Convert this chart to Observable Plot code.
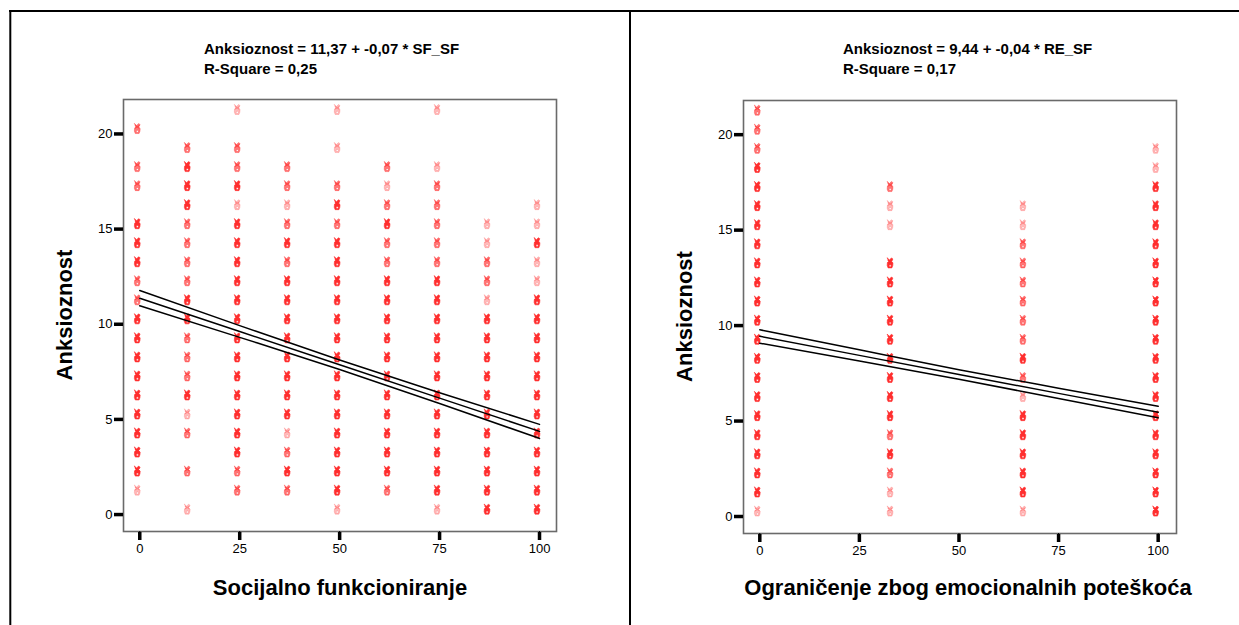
<!DOCTYPE html>
<html>
<head>
<meta charset="utf-8">
<script src="https://cdn.jsdelivr.net/npm/d3@7"></script>
<script src="https://cdn.jsdelivr.net/npm/@observablehq/plot@0.6"></script>
<style>
  html, body { margin: 0; padding: 0; background: #fff; }
  #wrap { position: relative; width: 1239px; height: 625px; overflow: hidden; background: #fff; }
  .panel { position: absolute; top: 0; }
  #overlay { position: absolute; left: 0; top: 0; pointer-events: none; }
  #overlay text { font-family: "Liberation Sans", Arial, sans-serif; fill: #000; }
</style>
</head>
<body>
<div id="wrap">
  <div class="panel" id="left" style="left:0px"></div>
  <div class="panel" id="right" style="left:629px"></div>
  <svg id="overlay" width="1239" height="625"></svg>
</div>
<script>
// ---------- DATA ----------
const yTicks = [0, 5, 10, 15, 20];
const xTicks = [0, 25, 50, 75, 100];

// Left panel: Socijalno funkcioniranje (SF_SF)
const sfX = [0, 12.5, 25, 37.5, 50, 62.5, 75, 87.5, 100];
// density of each Anksioznost value 0..21 per column: . none, l light, m medium, d dense
const sfDensity = [
  ".ldddddddddmmddd.mm.m.",
  "l.m.mldmmmddmmmmdddm..",
  ".mmdddddddddddddldmm.l",
  ".mdmlddddddddmdmlmm...",
  "lddddddddddddddmdm.l.l",
  ".mdddddddddddmmdmlm...",
  "lddddddddddddmmmmml..l",
  "dddddddddddlmmll......",
  "ddddddddddddlldll....."
];
const sfLineX  = [0, 25, 50, 75, 100];
const sfFit    = [11.37, 9.62, 7.87, 6.12, 4.37];
const sfUpper  = [11.77, 9.93, 8.12, 6.40, 4.74];
const sfLower  = [10.97, 9.31, 7.62, 5.84, 4.00];

// Right panel: Ograničenje zbog emocionalnih poteškoća (RE_SF)
const reX = [0, 33.33, 66.67, 100];
const reDensity = [
  "lddddddddddddddddddmmm",
  "llmdmddddddddd.llm....",
  "ldddddlmdmmmmmmll.....",
  "ddddddddddddddddddll.."
];
const reLineX = [0, 25, 50, 75, 100];
const reFit   = [9.44, 8.44, 7.44, 6.45, 5.46];
const reUpper = [9.78, 8.73, 7.69, 6.72, 5.77];
const reLower = [9.08, 8.15, 7.19, 6.18, 5.17];

const densityOpacity = {l: 0.33, m: 0.65, d: 1};

// ---------- BUILD ----------
function points(xs, dens) {
  const out = [];
  xs.forEach((x, i) => {
    for (let r = 0; r < dens[i].length; r++) {
      const c = dens[i][r];
      if (c !== ".") out.push({x, y: r, o: densityOpacity[c]});
    }
  });
  return out;
}
function lineData(xs, ys) { return xs.map((x, i) => ({x, y: ys[i]})); }

// sunflower-like glyph (SPSS style), anchored at the data point
const ox = -2.6;
const sunBody = {
  draw(ctx) {
    ctx.moveTo(ox - 2.9, -10.6);
    ctx.lineTo(ox - 0.5, -8.4);
    ctx.lineTo(ox + 1.4, -10.4);
    ctx.lineTo(ox + 3.0, -9.3);
    ctx.lineTo(ox + 1.3, -6.9);
    ctx.lineTo(ox + 3.0, -5.5);
    ctx.lineTo(ox + 2.8, -2.8);
    ctx.lineTo(ox + 1.9, -0.4);
    ctx.lineTo(ox - 1.9, -0.4);
    ctx.lineTo(ox - 2.8, -2.8);
    ctx.lineTo(ox - 2.6, -5.6);
    ctx.lineTo(ox - 1.1, -6.8);
    ctx.closePath();
    ctx.moveTo(ox + 1.3, -2.5);
    ctx.arc(ox + 0.2, -2.5, 1.1, 0, 2 * Math.PI, true);
    ctx.closePath();
  }
};
const sunLines = {
  draw(ctx) {
    ctx.moveTo(ox - 2.4, -5.6); ctx.lineTo(ox + 2.4, -8.4);
    ctx.moveTo(ox - 2.2, -8.4); ctx.lineTo(ox + 2.2, -5.8);
  }
};
// thick SPSS-style tick marks
const tickLeft = { draw(ctx) { ctx.moveTo(-9.5, 0); ctx.lineTo(-0.5, 0); } };
const tickDown = { draw(ctx) { ctx.moveTo(0, 0.5); ctx.lineTo(0, 8.5); } };

const font = "'Liberation Sans', Arial, sans-serif";

function panel({width, margins, xDomain, yDomain, pts, lx, fit, up, lo}) {
  return Plot.plot({
    width, height: 625,
    marginLeft: margins[0], marginRight: margins[1], marginTop: margins[2], marginBottom: margins[3],
    style: {fontFamily: font, fontSize: "13px", background: "transparent", color: "#000", overflow: "visible"},
    x: {domain: xDomain, label: null},
    y: {domain: yDomain, label: null},
    marks: [
      Plot.dot(pts, {x: "x", y: "y", symbol: sunBody, r: 4, fill: "#ff2e2e", fillOpacity: "o",
                     stroke: "#ff2e2e", strokeWidth: 0.6, strokeOpacity: "o"}),
      Plot.dot(pts, {x: "x", y: "y", symbol: sunLines, r: 4, fill: "none", stroke: "#ff2e2e",
                     strokeWidth: 1.2, strokeOpacity: "o"}),
      Plot.line(lineData(lx, up),  {x: "x", y: "y", stroke: "#000", strokeWidth: 1.5, curve: "monotone-x"}),
      Plot.line(lineData(lx, fit), {x: "x", y: "y", stroke: "#000", strokeWidth: 1.5}),
      Plot.line(lineData(lx, lo),  {x: "x", y: "y", stroke: "#000", strokeWidth: 1.5, curve: "monotone-x"}),
      Plot.frame({stroke: "#6a6a6a", strokeWidth: 1.6}),
      Plot.axisY({ticks: yTicks, tickSize: 9, tickPadding: 2, fontSize: 13, label: null}),
      Plot.axisX({ticks: xTicks, tickSize: 8, tickPadding: 4, fontSize: 13, label: null}),
      Plot.dot(yTicks, {x: () => xDomain[0], y: d => d, symbol: tickLeft, r: 4, stroke: "#000", strokeWidth: 3.5}),
      Plot.dot(xTicks, {x: d => d, y: () => yDomain[0], symbol: tickDown, r: 4, stroke: "#000", strokeWidth: 3.5})
    ]
  });
}

document.getElementById("left").appendChild(panel({
  width: 629, margins: [123, 73, 99, 94],
  xDomain: [-4.07, 104.25], yDomain: [-0.89, 21.81],
  pts: points(sfX, sfDensity), lx: sfLineX, fit: sfFit, up: sfUpper, lo: sfLower
}));
document.getElementById("right").appendChild(panel({
  width: 610, margins: [114, 63, 100, 92],
  xDomain: [-4.09, 104.6], yDomain: [-0.89, 21.79],
  pts: points(reX, reDensity), lx: reLineX, fit: reFit, up: reUpper, lo: reLower
}));

// ---------- OVERLAY: borders, titles, axis labels ----------
const ov = d3.select("#overlay");
ov.append("line").attr("x1", 9).attr("x2", 1239).attr("y1", 11).attr("y2", 11).attr("stroke", "#000").attr("stroke-width", 2);
ov.append("line").attr("x1", 10.3).attr("x2", 10.3).attr("y1", 10).attr("y2", 625).attr("stroke", "#000").attr("stroke-width", 2);
ov.append("line").attr("x1", 630).attr("x2", 630).attr("y1", 10).attr("y2", 625).attr("stroke", "#000").attr("stroke-width", 2);

const titles = [
  {x: 204, lines: ["Anksioznost = 11,37 + -0,07 * SF_SF", "R-Square = 0,25"]},
  {x: 843, lines: ["Anksioznost = 9,44 + -0,04 * RE_SF", "R-Square = 0,17"]}
];
titles.forEach(t => t.lines.forEach((s, i) => {
  ov.append("text").attr("x", t.x).attr("y", 54 + i * 20)
    .attr("font-size", 15).attr("font-weight", "bold").text(s);
}));

const xLabels = [{x: 340, text: "Socijalno funkcioniranje"}, {x: 968, text: "Ograničenje zbog emocionalnih poteškoća"}];
xLabels.forEach(l => ov.append("text").attr("x", l.x).attr("y", 595).attr("text-anchor", "middle")
  .attr("font-size", 22).attr("font-weight", "bold").text(l.text));

const yLabels = [{x: 71.5, y: 315}, {x: 691.5, y: 316.5}];
yLabels.forEach(l => ov.append("text").attr("transform", `translate(${l.x},${l.y}) rotate(-90)`)
  .attr("text-anchor", "middle").attr("font-size", 22).attr("font-weight", "bold").text("Anksioznost"));
</script>
</body>
</html>
